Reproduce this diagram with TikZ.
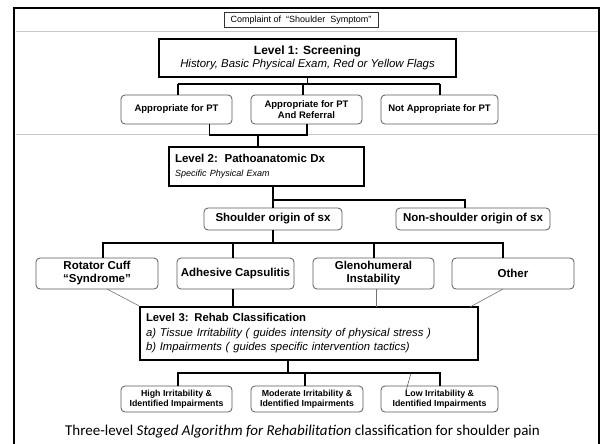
\documentclass[tikz,border=0pt]{standalone}
\usepackage{fontspec}
\setmainfont{Liberation Sans}
\newfontfamily\capfont{Carlito}
\begin{document}
\begin{tikzpicture}[x=1pt,y=-1pt,
  thickbox/.style={draw=black,line width=2.6pt,inner sep=0pt},
  plainbox/.style={draw=black!80,line width=0.7pt,inner sep=0pt,font=\fontsize{9}{10}\selectfont},
  rbox/.style={draw=black!65,line width=0.8pt,rounded corners=4pt,inner sep=0pt,align=center},
  rowone/.style={rbox,font=\bfseries\fontsize{9.5}{11}\selectfont,minimum height=29pt},
  rowmid/.style={rbox,font=\bfseries\fontsize{11.5}{13}\selectfont},
  rowlow/.style={rbox,font=\bfseries\fontsize{8.8}{10.5}\selectfont,minimum height=26pt},
  conn/.style={draw=black,line width=1.1pt},
  grayconn/.style={draw=black!55,line width=0.6pt},
  sepline/.style={draw=black!22,line width=1pt}
]
\useasboundingbox (0,0) rectangle (602,444);
% frame
\draw[line width=2.6pt] (14,446) -- (14,8) -- (599,8) -- (599,446);
\draw[sepline] (15.5,32) -- (597.5,32);
\draw[sepline] (15.5,134) -- (597.5,134);

% top
\node[plainbox,minimum width=154pt,minimum height=15pt] (complaint) at (301,20) {Complaint of\ \ “Shoulder\ \ Symptom”};

\node[thickbox,minimum width=297pt,minimum height=38pt,align=center,font=\fontsize{12}{13.5}\selectfont] (lev1) at (307.5,58)
  {{\bfseries Level 1: Screening}\\{\itshape\fontsize{11.4}{13.5}\selectfont History, Basic Physical Exam, Red or Yellow Flags}};

\node[rowone,minimum width=111pt] (p1) at (176.5,109.5) {Appropriate for PT};
\node[rowone,minimum width=111pt] (p2) at (306.5,109.5) {Appropriate for PT\\And Referral};
\node[rowone,minimum width=117pt] (p3) at (439.5,109.5) {Not Appropriate for PT};

\coordinate (h1l) at (178,84);
\coordinate (h1m) at (303,84);
\coordinate (h1r) at (440,84);
\draw[conn] (lev1.south) |- (h1l);
\draw[conn] (lev1.south) |- (h1r);
\draw[conn] (h1l) -- (h1l |- p1.north);
\draw[conn] (h1m) -- (h1m |- p2.north);
\draw[conn] (h1r) -- (h1r |- p3.north);

% level 2
\node[thickbox,minimum width=195pt,minimum height=39pt,align=left,text width=183pt] (lev2) at (266.5,166.5)
  {{\bfseries\fontsize{11.5}{13}\selectfont Level 2:\ \ Pathoanatomic Dx}\\[2pt]{\itshape\fontsize{9}{10}\selectfont Specific Physical Exam}};

\coordinate (j1) at (209.6,135);
\coordinate (j2) at (307,135);
\coordinate (j3) at (258,135);
\draw[conn] (j1 |- p1.south) -- (j1) -- (j2) -- (j2 |- p2.south);
\draw[conn] (j3) -- (j3 |- lev2.north);

\node[rowmid,minimum width=138pt,minimum height=22pt] (sh) at (273,219) {Shoulder origin of sx};
\node[rowmid,minimum width=154pt,minimum height=22pt] (ns) at (473,219) {Non-shoulder origin of sx};

\coordinate (h2l) at (273,200);
\coordinate (h2r) at (465,200);
\draw[conn] (h2l |- lev2.south) -- (h2l) -- (h2r) -- (h2r |- ns.north);
\draw[conn] (h2l) -- (sh.north);

% level 2 children
\node[rowmid,minimum width=122pt,minimum height=31pt] (rc) at (97,273.5) {Rotator Cuff\\“Syndrome”};
\node[rowmid,minimum width=117pt,minimum height=31pt] (ac) at (235.5,273.5) {Adhesive Capsulitis};
\node[rowmid,minimum width=121pt,minimum height=31pt] (gh) at (373.5,273.5) {Glenohumeral\\Instability};
\node[rowmid,minimum width=122pt,minimum height=31pt] (ot) at (513,273.5) {Other};

\coordinate (h3l) at (103,243);
\coordinate (h3a) at (233,243);
\coordinate (h3g) at (374,243);
\coordinate (h3r) at (503,243);
\draw[conn] (sh.south) -- (sh.south |- h3l);
\draw[conn] (h3l |- rc.north) -- (h3l) -- (h3r) -- (h3r |- ot.north);
\draw[conn] (h3a) -- (h3a |- ac.north);
\draw[conn] (h3g) -- (h3g |- gh.north);

% level 3
\node[thickbox,minimum width=338pt,minimum height=53pt,align=left,text width=326pt,font=\fontsize{11.3}{14.5}\selectfont] (lev3) at (309,333.5)
  {{\bfseries Level 3: Rehab Classification}\\{\itshape a) Tissue Irritability ( guides intensity of physical stress )}\\{\itshape b) Impairments ( guides specific intervention tactics)}};

\coordinate (rcd) at (107,289);
\coordinate (otd) at (503,289);
\coordinate (l3r) at (470,307);
\draw[conn] (h3a |- ac.south) -- (h3a |- lev3.north);
\draw[grayconn] (376,289) -- (376,307);
\draw[grayconn] (rcd) -- (lev3.north west);
\draw[grayconn] (otd) -- (l3r);

% bottom
\node[rowlow,minimum width=111pt] (b1) at (176.5,399) {High Irritability \&\\Identified Impairments};
\node[rowlow,minimum width=112pt] (b2) at (307,399) {Moderate Irritability \&\\Identified Impairments};
\node[rowlow,minimum width=117pt] (b3) at (439.5,399) {Low Irritability \&\\Identified Impairments};

\coordinate (h4l) at (178,373);
\coordinate (h4m) at (305,373);
\coordinate (h4r) at (440,373);
\coordinate (h4c) at (288,373);
\draw[conn] (h4c |- lev3.south) -- (h4c);
\draw[conn] (h4l |- b1.north) -- (h4l) -- (h4r) -- (h4r |- b3.north);
\draw[conn] (h4m) -- (h4m |- b2.north);
\draw[black!70,line width=0.5pt] (411,373) -- (406,391);

\node[font=\capfont\fontsize{15}{17}\selectfont,inner sep=0pt] (cap) at (302.5,432)
  {Three-level \textit{Staged Algorithm for Rehabilitation} classification for shoulder pain};
\end{tikzpicture}
\end{document}
